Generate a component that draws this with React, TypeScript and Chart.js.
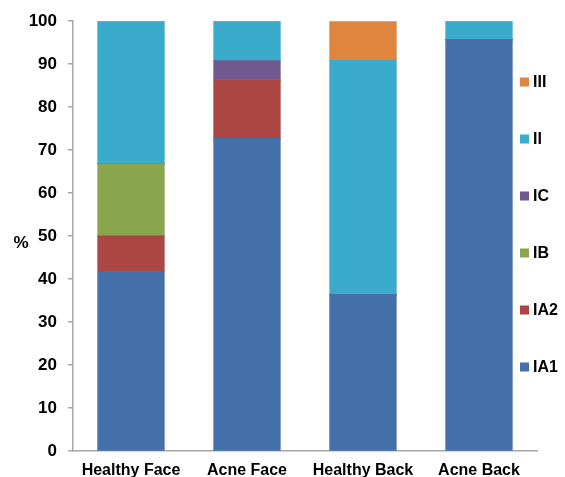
import React, { useEffect, useRef } from "react";
import { Chart, registerables } from "chart.js";

Chart.register(...registerables);

const categories = ["Healthy Face", "Acne Face", "Healthy Back", "Acne Back"];
const IA1 = [41.7, 72.7, 36.4, 95.7];
const IA2 = [8.3, 13.6, 0, 0];
const IB = [16.7, 0, 0, 0];
const IC = [0, 4.5, 0, 0];
const II = [33.3, 9.2, 54.5, 4.3];
const III = [0, 0, 9.1, 0];
const seriesNames = ["IA1", "IA2", "IB", "IC", "II", "III"];
const seriesColors = ["#4471AA", "#AA4643", "#89A54E", "#71588F", "#3AABCA", "#DF853E"];
const yTicks = [0, 10, 20, 30, 40, 50, 60, 70, 80, 90, 100];

const FONT = "'Liberation Sans', Arial, sans-serif";

const overlayPlugin = {
  id: "overlay",
  afterDraw(chart: any) {
    const ctx = chart.ctx;
    ctx.save();
    ctx.fillStyle = "#000";
    ctx.font = `bold 17px ${FONT}`;
    ctx.textAlign = "center";
    ctx.textBaseline = "middle";
    ctx.fillText("%", 21, 243);
    const n = chart.data.datasets.length;
    ctx.font = `bold 16px ${FONT}`;
    ctx.textAlign = "left";
    for (let k = 0; k < n; k++) {
      const ds = chart.data.datasets[n - 1 - k];
      const y = 82 + k * 57;
      ctx.fillStyle = ds.backgroundColor;
      ctx.fillRect(520, y - 4.5, 9, 9);
      ctx.fillStyle = "#000";
      ctx.fillText(ds.label, 533, y + 1);
    }
    ctx.restore();
  },
};

export default function App() {
  const ref = useRef<HTMLCanvasElement>(null);
  useEffect(() => {
    if (!ref.current) return;
    const all = [IA1, IA2, IB, IC, II, III];
    const chart = new Chart(ref.current, {
      type: "bar",
      data: {
        labels: categories,
        datasets: all.map((d, i) => ({
          label: seriesNames[i],
          data: d,
          backgroundColor: seriesColors[i],
          borderWidth: 0,
          inflateAmount: 0.6,
          categoryPercentage: 1,
          barPercentage: 0.57,
        })),
      },
      options: {
        animation: false,
        responsive: false,
        maintainAspectRatio: false,
        layout: { padding: { top: 21, right: 28, left: 0, bottom: 0 } },
        plugins: { legend: { display: false }, tooltip: { enabled: false } },
        scales: {
          x: {
            stacked: true,
            grid: { display: false, drawTicks: false },
            border: { color: "#A6A6A6", width: 1.5 },
            ticks: { color: "#000", font: { family: FONT, size: 16, weight: "bold" }, padding: 10, maxRotation: 0 },
            afterFit: (s: any) => { s.height = 26; },
          },
          y: {
            stacked: true,
            min: 0,
            max: 100,
            afterBuildTicks: (s: any) => { s.ticks = yTicks.map((v) => ({ value: v })); },
            grid: { drawOnChartArea: false, drawTicks: true, tickLength: 5, color: "#A6A6A6", lineWidth: 1.5 },
            border: { color: "#A6A6A6", width: 1.5 },
            ticks: { color: "#000", font: { family: FONT, size: 17, weight: "bold" }, padding: 11 },
            afterFit: (s: any) => { s.width = 73; },
          },
        },
      },
      plugins: [overlayPlugin],
    });
    return () => chart.destroy();
  }, []);
  return (
    <div style={{ position: "fixed", left: 0, top: 0, width: 565, height: 477, background: "#fff" }}>
      <canvas ref={ref} width={565} height={477} style={{ width: 565, height: 477 }} />
    </div>
  );
}
